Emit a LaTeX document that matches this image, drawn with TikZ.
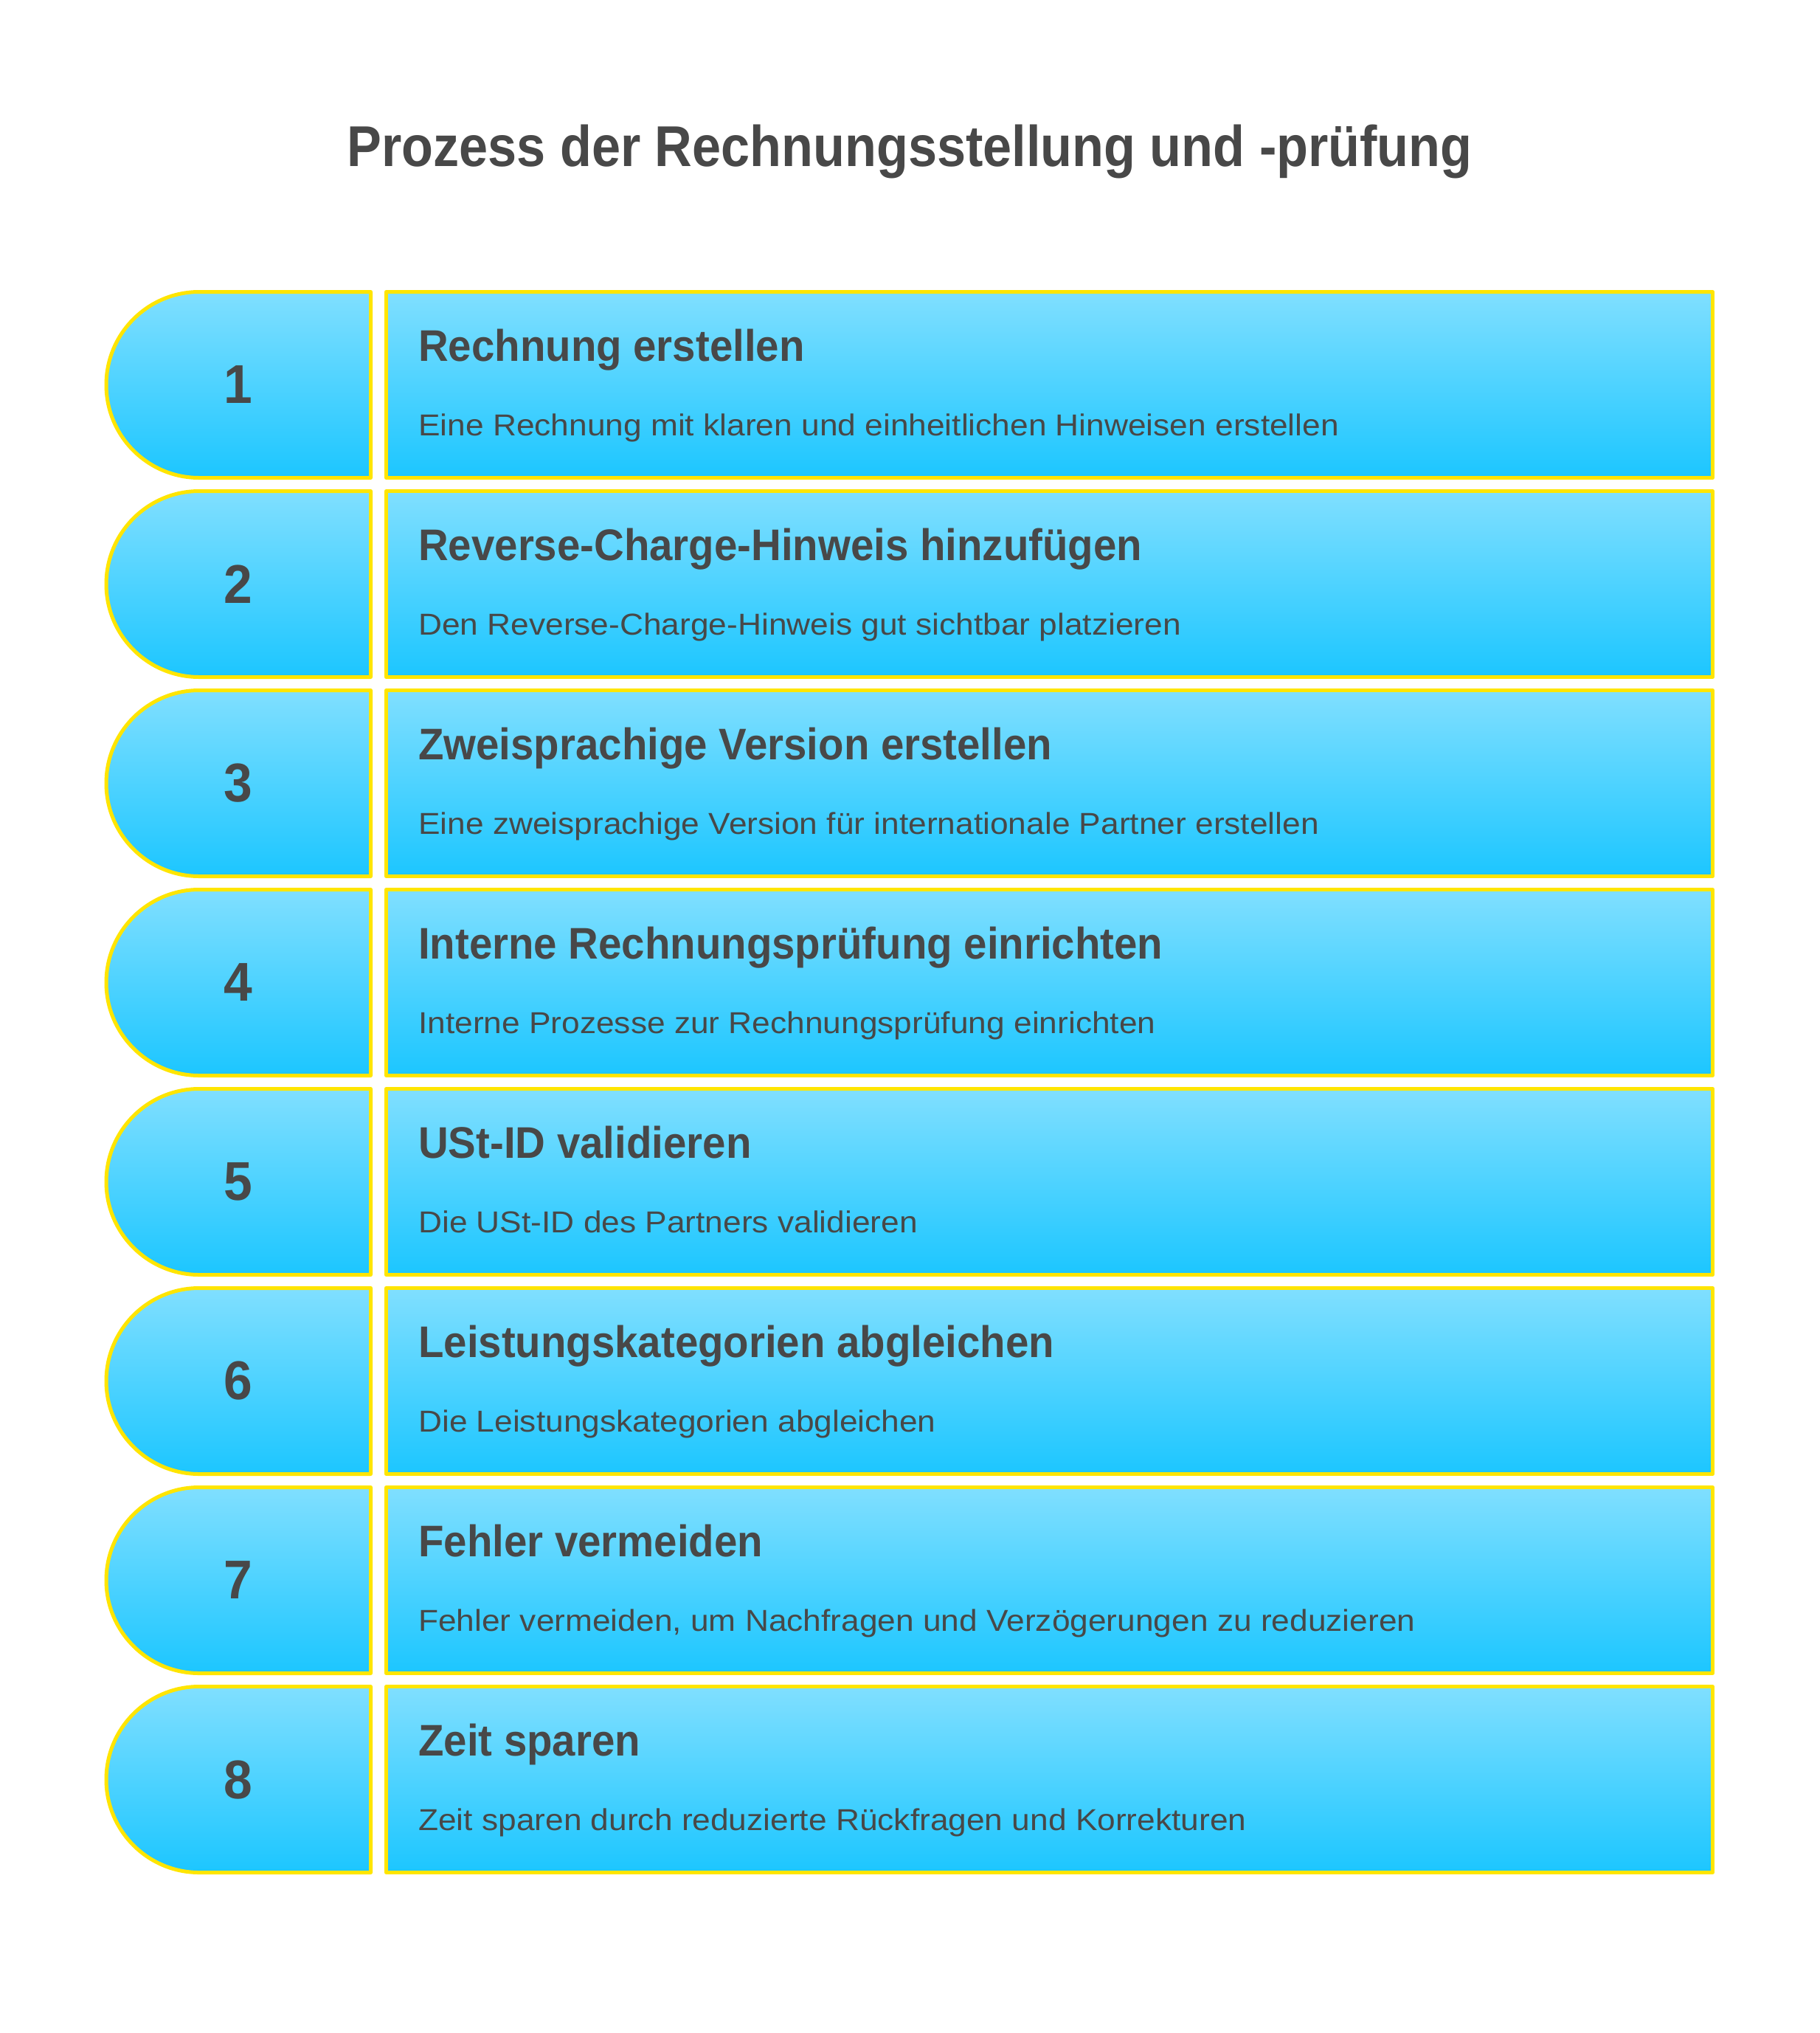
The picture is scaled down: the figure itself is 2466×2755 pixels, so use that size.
\documentclass[tikz,border=0pt]{standalone}
\usepackage{fontspec}
\setmainfont{Liberation Sans}
\newfontfamily\titlefont{Liberation Sans}[FakeStretch=0.9]
\newfontfamily\headfont{Liberation Sans}[FakeStretch=0.94]
\newfontfamily\descfont{Liberation Sans}[FakeStretch=1.08]
\definecolor{txt}{HTML}{484848}
\definecolor{ylw}{HTML}{FFE500}
\definecolor{topc}{HTML}{80DFFF}
\definecolor{botc}{HTML}{1CC6FF}
\begin{document}
\begin{tikzpicture}[x=1pt,y=-1pt,
  cell/.style={draw=ylw, line width=5pt, top color=topc, bottom color=botc, line join=round},
  numtxt/.style={text=txt, inner sep=0pt, font={\headfont\bfseries\fontsize{74}{80}\selectfont}},
  headtxt/.style={text=txt, inner sep=0pt, anchor=base west, font={\headfont\bfseries\fontsize{60}{70}\selectfont}},
  desctxt/.style={text=txt, inner sep=0pt, anchor=base west, font={\descfont\fontsize{41}{48}\selectfont}},
  ttltxt/.style={text=txt, inner sep=0pt, anchor=base, font={\titlefont\bfseries\fontsize{78}{90}\selectfont}}]
\fill[white] (0,0) rectangle (2466,2755);
\useasboundingbox (0,0) rectangle (2466,2755);
\node[ttltxt] (title) at (1233,225) {Prozess der Rechnungsstellung und -prüfung};
\foreach \i/\h/\d in {
  1/{Rechnung erstellen}/{Eine Rechnung mit klaren und einheitlichen Hinweisen erstellen},
  2/{Reverse-Charge-Hinweis hinzufügen}/{Den Reverse-Charge-Hinweis gut sichtbar platzieren},
  3/{Zweisprachige Version erstellen}/{Eine zweisprachige Version für internationale Partner erstellen},
  4/{Interne Rechnungsprüfung einrichten}/{Interne Prozesse zur Rechnungsprüfung einrichten},
  5/{USt-ID validieren}/{Die USt-ID des Partners validieren},
  6/{Leistungskategorien abgleichen}/{Die Leistungskategorien abgleichen},
  7/{Fehler vermeiden}/{Fehler vermeiden, um Nachfragen und Verzögerungen zu reduzieren},
  8/{Zeit sparen}/{Zeit sparen durch reduzierte Rückfragen und Korrekturen}}{
  \pgfmathsetmacro\t{395.5+270*(\i-1)}
  \path[cell] (502.5,\t) -- (270,\t) arc[start angle=270, end angle=90, radius=126] -- (502.5,\t+252) -- cycle;
  \coordinate (tab\i) at (323,\t+126);
  \node[cell, anchor=north west, minimum width=1798, minimum height=252, inner sep=0pt, outer sep=0pt] (box\i) at (523.5,\t) {};
  \node[numtxt] (num\i) at (tab\i) {\i};
  \node[headtxt] (head\i) at (567,\t+93.5) {\h};
  \node[desctxt] (desc\i) at (567,\t+194.5) {\d};
}
\end{tikzpicture}
\end{document}
